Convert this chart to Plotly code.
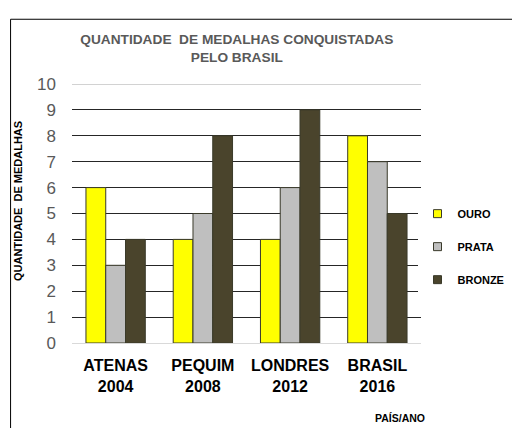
import plotly.graph_objects as go

categorias = ["ATENAS<br>2004", "PEQUIM<br>2008", "LONDRES<br>2012", "BRASIL<br>2016"]
ouro = [6, 4, 4, 8]
prata = [3, 5, 6, 7]
bronze = [4, 8, 9, 5]

series = [("OURO", ouro, "#FFFF00"), ("PRATA", prata, "#BFBFBF"), ("BRONZE", bronze, "#4A442C")]

fig = go.Figure()
for nome, valores, cor in series:
    fig.add_trace(go.Bar(x=categorias, y=valores, name=nome, showlegend=False,
                         marker=dict(color=cor, line=dict(color="#3a3a2a", width=1))))
    # entrada da legenda com quadradinho pequeno
    fig.add_trace(go.Scatter(x=[categorias[0]], y=[None], mode="markers", name="<b>" + nome + "</b>",
                             legendgroup=nome,
                             marker=dict(symbol="square", size=8, color=cor,
                                         line=dict(color="#3a3a2a", width=1))))

fig.update_layout(
    width=520, height=428,
    margin=dict(l=64, r=107, t=76, b=93, autoexpand=False),
    paper_bgcolor="white", plot_bgcolor="white",
    barmode="group", bargap=0.32, bargroupgap=0,
    font=dict(family="Liberation Sans, Arial, sans-serif"),
    title=dict(text="<b>QUANTIDADE  DE MEDALHAS CONQUISTADAS<br>PELO BRASIL</b>",
               x=0.44, xanchor="center", y=0.915, yanchor="top",
               font=dict(size=13.7, color="#595959")),
    legend=dict(x=0.99, y=0.372, xanchor="left", yanchor="middle",
                font=dict(size=11, color="black"),
                tracegroupgap=14, itemwidth=30),
    showlegend=True,
)
fig.update_xaxes(tickfont=dict(size=16, color="black"), ticks="", showline=False,
                 tickprefix="<b>", ticksuffix="</b>", automargin=False, ticklabelstandoff=11)
fig.update_yaxes(range=[0, 10], dtick=1, showgrid=True, gridcolor="#262626", gridwidth=1,
                 zeroline=True, zerolinecolor="#D9D9D9", zerolinewidth=1, automargin=False,
                 tickfont=dict(size=17, color="#595959"), ticklabelstandoff=15)

# titulo do eixo y
fig.add_annotation(text="<b>QUANTIDADE  DE MEDALHAS</b>", xref="paper", yref="paper",
                   x=-0.155, y=0.548, xanchor="center", yanchor="middle", textangle=-90,
                   showarrow=False, font=dict(size=11, color="black"))
# linha superior cinza e borda externa
fig.add_shape(type="line", xref="paper", yref="y", x0=0, x1=1, y0=10, y1=10,
              line=dict(color="#A6A6A6", width=1))
fig.add_shape(type="rect", xref="paper", yref="paper", x0=-0.176, x1=1.5, y0=-0.6, y1=1.25,
              line=dict(color="black", width=1))
fig.add_annotation(text="<b>PAÍS/ANO</b>", xref="paper", yref="paper", x=0.94, y=-0.29,
                   xanchor="center", yanchor="middle",
                   showarrow=False, font=dict(size=10.5, color="black"))

fig.write_html("out.html")
